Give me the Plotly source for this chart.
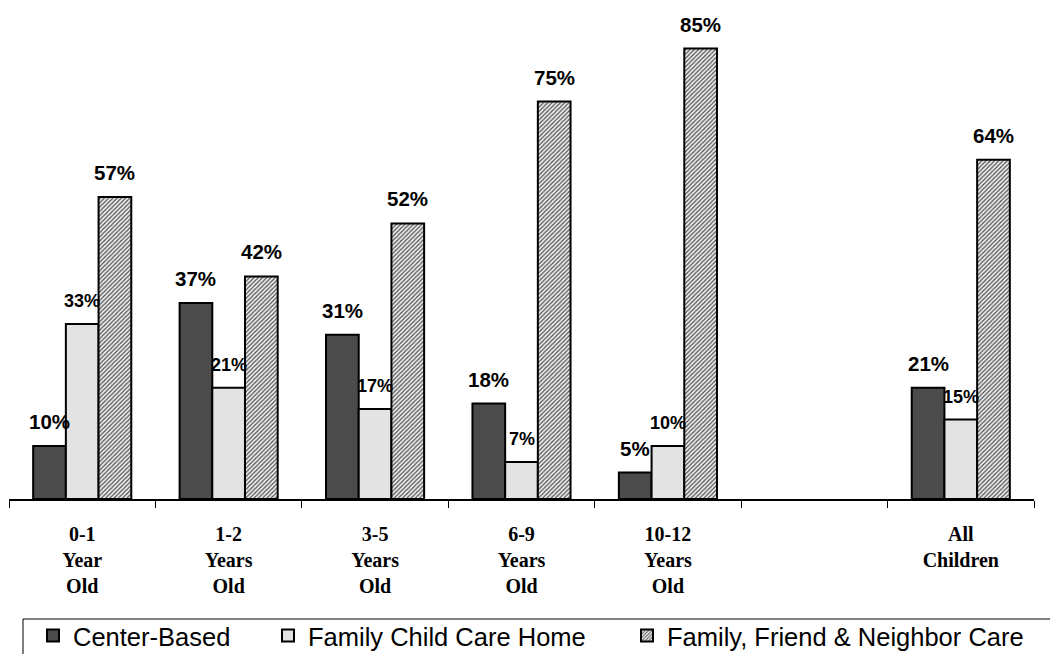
import plotly.graph_objects as go

# Age groups (an empty slot separates the age groups from the overall figure)
categories = ["0-1<br>Year<br>Old", "1-2<br>Years<br>Old", "3-5<br>Years<br>Old",
              "6-9<br>Years<br>Old", "10-12<br>Years<br>Old", " ", "All<br>Children"]

center_based = [10, 37, 31, 18, 5, None, 21]
family_child_care = [33, 21, 17, 7, 10, None, 15]
ffn_care = [57, 42, 52, 75, 85, None, 64]

series_names = ["Center-Based", "Family Child Care Home", "Family, Friend & Neighbor Care"]

W, H = 1050, 654
ML, MR, MT, MB = 9, 16, 22, 155
PW, PH = W - ML - MR, H - MT - MB


def px_x(x):
    return (x - ML) / PW


def px_y(y):
    return (H - MB - y) / PH


fig = go.Figure()

fig.add_bar(x=categories, y=center_based, name=series_names[0], legend="legend",
            marker=dict(color="#4b4b4b", line=dict(color="black", width=2)))
fig.add_bar(x=categories, y=family_child_care, name=series_names[1], legend="legend2",
            marker=dict(color="#e3e3e3", line=dict(color="black", width=2)))
fig.add_bar(x=categories, y=ffn_care, name=series_names[2], legend="legend3",
            marker=dict(color="#d6d6d6", line=dict(color="black", width=2),
                        pattern=dict(shape="/", size=3, solidity=0.4,
                                     fgcolor="#505050", bgcolor="#efefef",
                                     fillmode="replace")))

BARGAP = 0.33
slot = PW / len(categories)
bar_w = slot * (1 - BARGAP) / 3

annotations = []
for k, (vals, size) in enumerate([(center_based, 20.5), (family_child_care, 18), (ffn_care, 20.5)]):
    for cat, v in zip(categories, vals):
        if v is None:
            continue
        annotations.append(dict(
            x=cat, y=v, xref="x", yref="y", text=f"<b>{v}%</b>",
            showarrow=False, yanchor="bottom", xanchor="center",
            xshift=(k - 1) * bar_w, yshift=11,
            font=dict(family="Liberation Sans, Arial", size=size, color="black"),
        ))

legend_common = dict(orientation="h", xanchor="left", yanchor="middle",
                     bgcolor="rgba(0,0,0,0)", borderwidth=0,
                     font=dict(family="Liberation Sans, Arial", size=25.5, color="black"))

fig.update_layout(
    width=W, height=H,
    margin=dict(l=ML, r=MR, t=MT, b=MB, autoexpand=False),
    paper_bgcolor="white", plot_bgcolor="white",
    barmode="group", bargap=BARGAP, bargroupgap=0,
    showlegend=True,
    legend=dict(x=px_x(33), y=px_y(636), **legend_common),
    legend2=dict(x=px_x(268), y=px_y(636), **legend_common),
    legend3=dict(x=px_x(627), y=px_y(636), **legend_common),
    annotations=annotations,
    shapes=[dict(type="rect", xref="paper", yref="paper",
                 x0=px_x(23), x1=px_x(1070), y0=px_y(619), y1=px_y(680),
                 line=dict(color="black", width=1), fillcolor="rgba(0,0,0,0)")],
    xaxis=dict(
        type="category", categoryorder="array", categoryarray=categories,
        range=[-0.5, len(categories) - 0.5], automargin=False,
        showline=True, linecolor="black", linewidth=1.5,
        ticks="outside", tickson="boundaries", ticklen=7, tickcolor="black", tickwidth=1,
        showgrid=False, zeroline=False,
        tickfont=dict(family="Liberation Serif, Times New Roman", size=20,
                      color="black", weight="bold"),
        ticklabelstandoff=16,
    ),
    yaxis=dict(range=[0, 90], visible=False, showgrid=False, zeroline=False,
               automargin=False),
)

fig.write_html("out.html")
